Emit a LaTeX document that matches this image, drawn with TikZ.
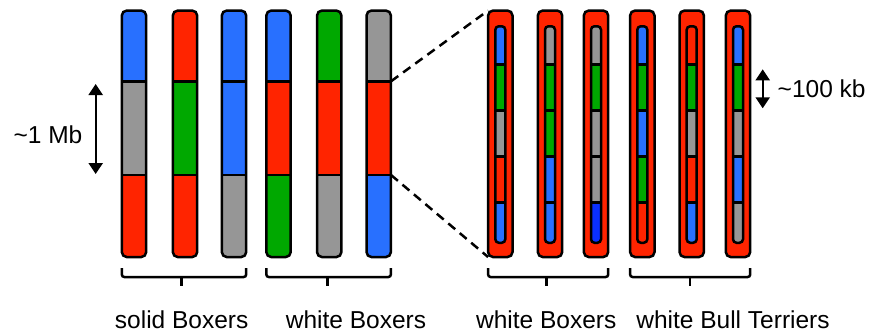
\documentclass[tikz,border=0pt]{standalone}
\usepackage{fontspec}
\setmainfont{Liberation Sans}
\usetikzlibrary{arrows.meta}
\definecolor{cb}{HTML}{2870FF}
\definecolor{cr}{HTML}{FF2400}
\definecolor{cg}{HTML}{00A800}
\definecolor{cy}{HTML}{969696}
\definecolor{cd}{HTML}{0A30FF}
\tikzset{
  barframe/.style={draw, line width=2.5pt, rounded corners=5pt, minimum width=24.4pt, minimum height=246.5pt, inner sep=0pt, outer sep=0pt},
  outerframe/.style={draw, fill=cr, line width=2.5pt, rounded corners=5pt, minimum width=24.4pt, minimum height=246.5pt, inner sep=0pt, outer sep=0pt},
  innerframe/.style={draw, line width=2.5pt, rounded corners=3.5pt, minimum width=10pt, minimum height=216.5pt, inner sep=0pt, outer sep=0pt},
  lbl/.style={font=\fontsize{24.5}{28}\selectfont, inner sep=0pt},
  dbl/.style={line width=2.2pt, {Triangle[width=14pt,length=11pt]}-{Triangle[width=14pt,length=11pt]}},
  brace/.style={line width=2.5pt, rounded corners=2.5pt},
  tick/.style={line width=2.5pt},
  zoomline/.style={line width=2.5pt, dash pattern=on 9pt off 6pt}
}
\newcommand\bbar[5]{%
  \begin{scope}
    \clip[rounded corners=5pt] (#2-12.2,10.5) rectangle (#2+12.2,257);
    \fill[#3] (#2-13,10) rectangle (#2+13,81.3);
    \fill[#4] (#2-13,81.3) rectangle (#2+13,175);
    \fill[#5] (#2-13,175) rectangle (#2+13,258);
  \end{scope}
  \draw[line width=2.5pt] (#2-12.2,81.3) -- (#2+12.2,81.3) (#2-12.2,175) -- (#2+12.2,175);
  \node[barframe] (#1) at (#2,133.8) {};
}
\newcommand\rbar[7]{%
  \node[outerframe] (#1) at (#2,133.8) {};
  \begin{scope}
    \clip[rounded corners=3.5pt] (#2-5,26.2) rectangle (#2+5,242.8);
    \fill[#3] (#2-6,25) rectangle (#2+6,64.3);
    \fill[#4] (#2-6,64.3) rectangle (#2+6,110.5);
    \fill[#5] (#2-6,110.5) rectangle (#2+6,156.7);
    \fill[#6] (#2-6,156.7) rectangle (#2+6,202.7);
    \fill[#7] (#2-6,202.7) rectangle (#2+6,244);
  \end{scope}
  \draw[line width=2.5pt] (#2-5,64.3) -- (#2+5,64.3) (#2-5,110.5) -- (#2+5,110.5)
    (#2-5,156.7) -- (#2+5,156.7) (#2-5,202.7) -- (#2+5,202.7);
  \node[innerframe] (#1i) at (#2,134.5) {};
}
\begin{document}
\begin{tikzpicture}[x=1pt,y=-1pt]
\useasboundingbox (0,0) rectangle (875,335);
% left bars
\bbar{L1}{134}{cb}{cy}{cr}
\bbar{L2}{185}{cr}{cg}{cr}
\bbar{L3}{234}{cb}{cb}{cy}
\bbar{L4}{278.5}{cb}{cr}{cg}
\bbar{L5}{329.2}{cg}{cr}{cy}
\bbar{L6}{378.7}{cy}{cr}{cb}
% right bars
\rbar{R1}{500.3}{cb}{cg}{cy}{cr}{cb}
\rbar{R2}{550}{cy}{cg}{cg}{cb}{cb}
\rbar{R3}{596}{cy}{cg}{cy}{cy}{cd}
\rbar{R4}{642.3}{cb}{cg}{cb}{cg}{cr}
\rbar{R5}{691.7}{cr}{cg}{cy}{cr}{cb}
\rbar{R6}{738}{cb}{cg}{cy}{cb}{cy}
% zoom lines
\coordinate (za) at (391,81.3);
\coordinate (zb) at (391,175);
\draw[zoomline] (za) -- (R1.north west);
\draw[zoomline] (zb) -- (R1.south west);
% scale arrows
\coordinate (m1) at (95.7,84);
\coordinate (m2) at (95.7,174);
\draw[dbl] (m1) -- (m2);
\node[lbl] (mb) at (48,135) {\textasciitilde1 Mb};
\coordinate (k1) at (762.7,69.3);
\coordinate (k2) at (762.7,108.3);
\draw[dbl] (k1) -- (k2);
\node[lbl, anchor=west] (kb) at (777.5,88.3) {\textasciitilde100 kb};
% braces
\draw[brace] (L1.west |- 0,268) -- (L1.west |- 0,277) -- (L3.east |- 0,277) -- (L3.east |- 0,268);
\coordinate (b1) at (181.7,277); \coordinate (b1t) at (181.7,286);
\draw[tick] (b1) -- (b1t);
\draw[brace] (L4.west |- 0,268) -- (L4.west |- 0,277) -- (L6.east |- 0,277) -- (L6.east |- 0,268);
\coordinate (b2) at (327.7,277); \coordinate (b2t) at (327.7,286);
\draw[tick] (b2) -- (b2t);
\draw[brace] (R1.west |- 0,268) -- (R1.west |- 0,277) -- (R3.east |- 0,277) -- (R3.east |- 0,268);
\coordinate (b3) at (546.7,277); \coordinate (b3t) at (546.7,286);
\draw[tick] (b3) -- (b3t);
\draw[brace] (R4.west |- 0,268) -- (R4.west |- 0,277) -- (R6.east |- 0,277) -- (R6.east |- 0,268);
\coordinate (b4) at (690,277); \coordinate (b4t) at (690,286);
\draw[tick] (b4) -- (b4t);
% labels
\node[lbl, anchor=base] (t1) at (181.7,328) {solid Boxers};
\node[lbl, anchor=base] (t2) at (356,328) {white Boxers};
\node[lbl, anchor=base] (t3) at (546.3,328) {white Boxers};
\node[lbl, anchor=base] (t4) at (733,328) {white Bull Terriers};
\end{tikzpicture}
\end{document}
